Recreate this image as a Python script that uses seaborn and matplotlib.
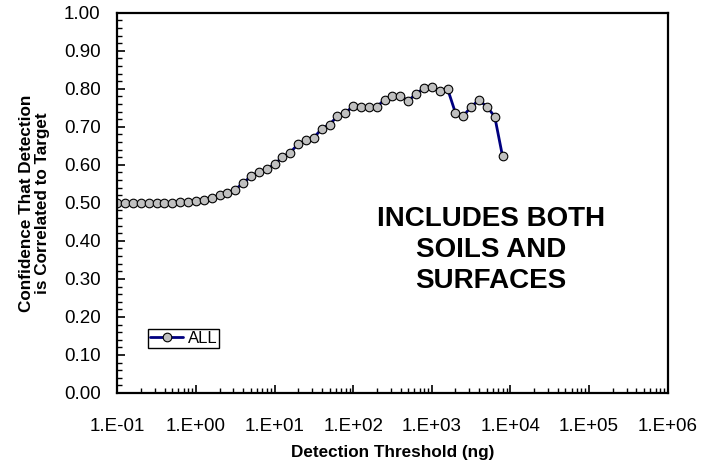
import numpy as np
import pandas as pd
import seaborn as sns
import matplotlib
matplotlib.use("Agg")
import matplotlib.pyplot as plt
from matplotlib.ticker import FixedLocator, FuncFormatter, LogLocator, MultipleLocator

# detection thresholds (ng): 0.1 decade steps
threshold = [0.1, 0.126, 0.158, 0.2, 0.251, 0.316, 0.398, 0.501, 0.631, 0.794,
             1.0, 1.26, 1.58, 2.0, 2.51, 3.16, 3.98, 5.01, 6.31, 7.94,
             10.0, 12.6, 15.8, 20.0, 25.1, 31.6, 39.8, 50.1, 63.1, 79.4,
             100.0, 126, 158, 200, 251, 316, 398, 501, 631, 794,
             1000, 1259, 1585, 1995, 2512, 3162, 3981, 5012, 6310, 7943]
confidence = [0.500, 0.500, 0.500, 0.500, 0.500, 0.500, 0.500, 0.500, 0.503, 0.503,
              0.504, 0.507, 0.512, 0.520, 0.526, 0.535, 0.552, 0.570, 0.581, 0.588,
              0.602, 0.620, 0.632, 0.655, 0.664, 0.671, 0.695, 0.706, 0.728, 0.737,
              0.754, 0.753, 0.753, 0.753, 0.771, 0.780, 0.780, 0.769, 0.786, 0.802,
              0.804, 0.793, 0.800, 0.737, 0.728, 0.753, 0.770, 0.753, 0.727, 0.622]
series_name = "ALL"
note = "INCLUDES BOTH\nSOILS AND\nSURFACES"

df = pd.DataFrame({"threshold": threshold, "confidence": confidence})

sns.set_style("ticks")
plt.rcParams["font.family"] = ["Liberation Sans", "DejaVu Sans"]
plt.rcParams["text.color"] = "black"
plt.rcParams["axes.labelcolor"] = "black"

fig = plt.figure(figsize=(7.01, 4.66), dpi=100)
ax = fig.add_axes([0.1673, 0.1567, 0.7852, 0.816])

sns.lineplot(data=df, x="threshold", y="confidence", ax=ax, label=series_name,
             color="#000080", linewidth=2, marker="o", markersize=6.2,
             markerfacecolor="#c0c0c0", markeredgecolor="black", markeredgewidth=0.8)

ax.set_xscale("log")
ax.set_xlim(0.1, 1e6)
ax.set_ylim(0, 1)

ax.xaxis.set_major_locator(FixedLocator([10.0 ** e for e in range(-1, 7)]))
ax.xaxis.set_major_formatter(FuncFormatter(lambda v, p: "1.E%+03d" % round(np.log10(v))))
ax.xaxis.set_minor_locator(LogLocator(base=10, subs=np.arange(2, 10), numticks=20))
ax.yaxis.set_major_locator(MultipleLocator(0.1))
ax.yaxis.set_minor_locator(MultipleLocator(0.02))
ax.yaxis.set_major_formatter(FuncFormatter(lambda v, p: "%.2f" % v))

ax.tick_params(which="both", direction="in", labelsize=13.5, colors="black")
ax.tick_params(axis="x", which="major", length=6, width=1.2, pad=18)
ax.tick_params(axis="x", which="minor", length=3.5, width=1)
ax.tick_params(axis="y", which="major", length=6, width=1.2, pad=12)
ax.tick_params(axis="y", which="minor", length=3.5, width=1)

for s in ax.spines.values():
    s.set_visible(True)
    s.set_color("black")
    s.set_linewidth(1.6)

ax.set_xlabel("Detection Threshold (ng)", fontsize=12.3, fontweight="bold", labelpad=7)
ax.set_ylabel("Confidence That Detection\nis Correlated to Target", fontsize=12.3,
              fontweight="bold", labelpad=10, linespacing=1.1)

ax.text(0.679, 0.375, note, transform=ax.transAxes, ha="center", va="center",
        fontsize=20, fontweight="bold", linespacing=1.25)

leg = ax.legend(loc="lower left", bbox_to_anchor=(0.056, 0.118), fontsize=12,
                frameon=True, fancybox=False, framealpha=1, handlelength=2.0,
                borderpad=0.12, handletextpad=0.25, borderaxespad=0)
leg.get_frame().set_edgecolor("black")
leg.get_frame().set_linewidth(1)

fig.savefig("out.png", dpi=100)
